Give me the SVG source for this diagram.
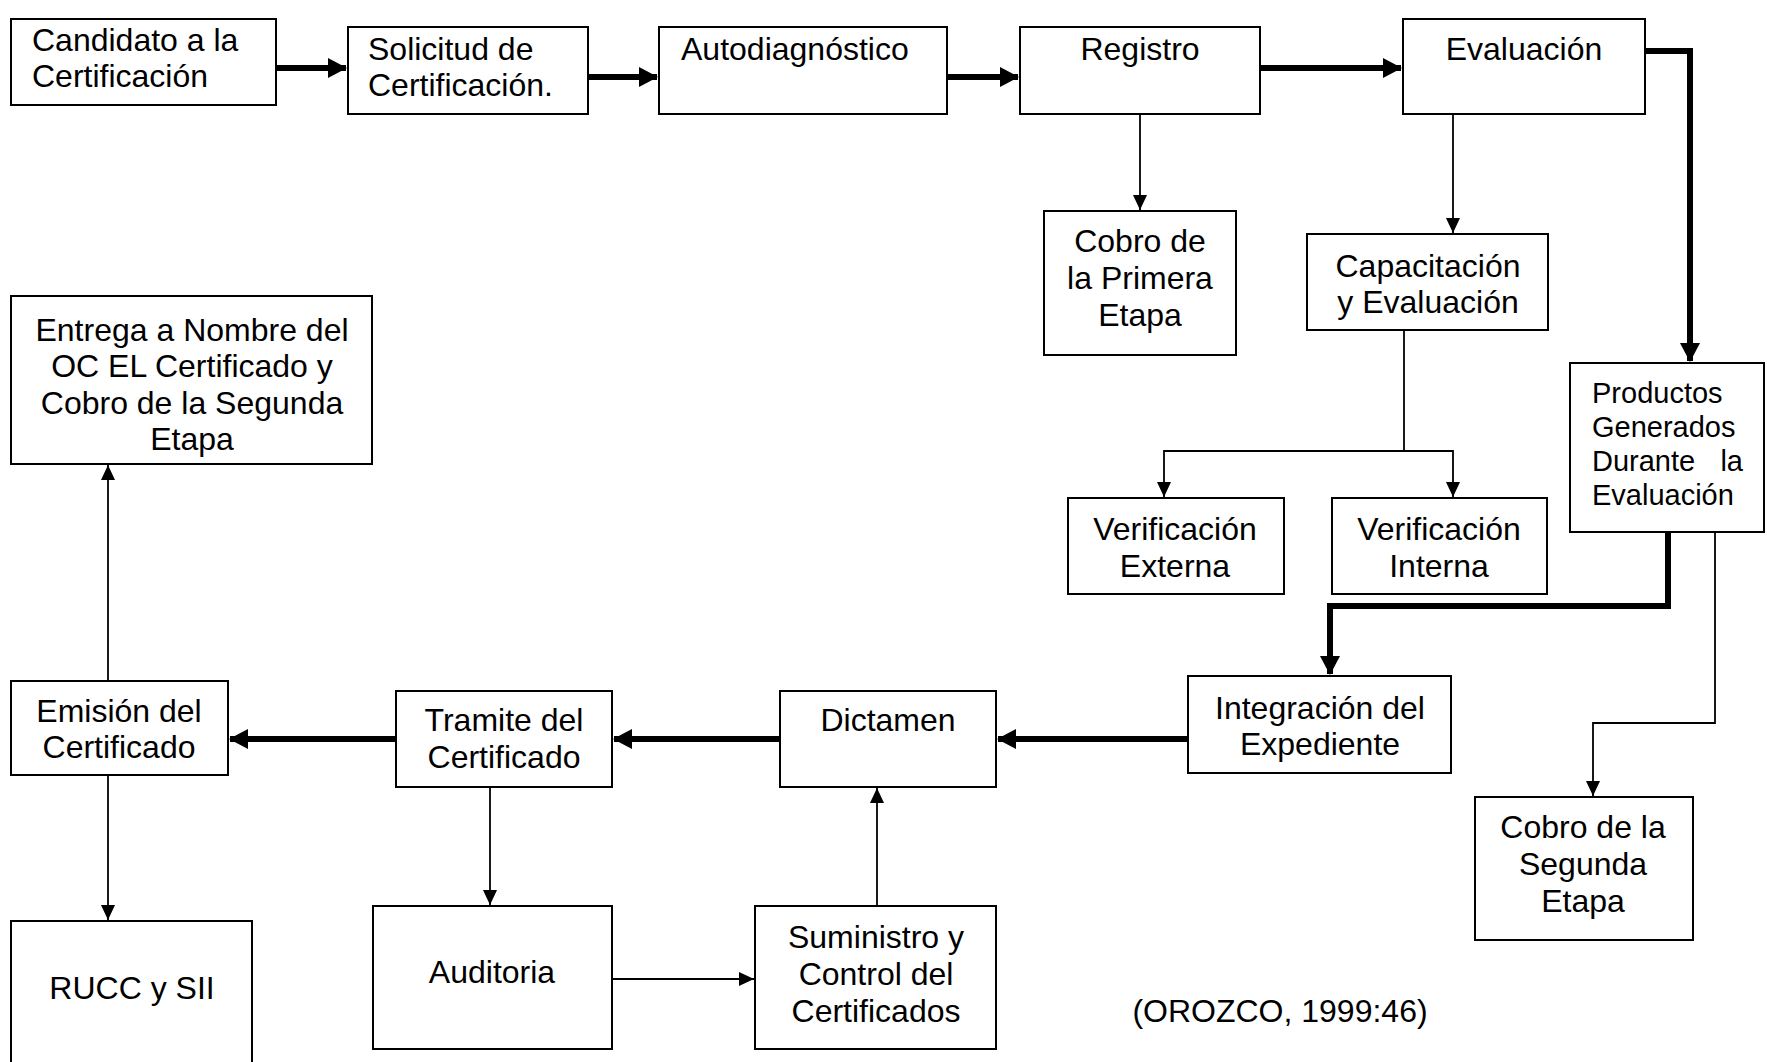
<svg xmlns="http://www.w3.org/2000/svg" width="1767" height="1062" viewBox="0 0 1767 1062">
<style>
.box{fill:#fff;stroke:#000;stroke-width:2}
text{font-family:"Liberation Sans",Arial,sans-serif;font-size:32px;fill:#000}
.c{text-anchor:middle}
.s{font-size:29px}
.thick{fill:none;stroke:#000;stroke-width:6}
.thin{fill:none;stroke:#000;stroke-width:1.8}
</style>
<defs>
<marker id="ah" markerUnits="userSpaceOnUse" markerWidth="19" markerHeight="20" refX="18" refY="10" orient="auto"><path d="M0,0 L19,10 L0,20 z" fill="#000"/></marker>
<marker id="at" markerUnits="userSpaceOnUse" markerWidth="15" markerHeight="14" refX="15" refY="7" orient="auto"><path d="M0,0 L15,7 L0,14 z" fill="#000"/></marker>
</defs>
<rect width="1767" height="1062" fill="#fff"/>
<g id="connectors">
<path class="thick" d="M276,68 H346" marker-end="url(#ah)"/>
<path class="thick" d="M588,77 H657" marker-end="url(#ah)"/>
<path class="thick" d="M947,77 H1018" marker-end="url(#ah)"/>
<path class="thick" d="M1260,68 H1401" marker-end="url(#ah)"/>
<path class="thick" d="M1645,51 H1690 V361" marker-end="url(#ah)"/>
<path class="thin" d="M1140,114 V210" marker-end="url(#at)"/>
<path class="thin" d="M1453,114 V233" marker-end="url(#at)"/>
<path class="thin" d="M1404,330 V451"/>
<path class="thin" d="M1404,451 H1164 V497" marker-end="url(#at)"/>
<path class="thin" d="M1404,451 H1453 V497" marker-end="url(#at)"/>
<path class="thick" d="M1668,532 V606 H1330 V674" marker-end="url(#ah)"/>
<path class="thin" d="M1715,532 V723 H1593 V796" marker-end="url(#at)"/>
<path class="thick" d="M1188,739 H998" marker-end="url(#ah)"/>
<path class="thick" d="M780,739 H614" marker-end="url(#ah)"/>
<path class="thick" d="M396,739 H230" marker-end="url(#ah)"/>
<path class="thin" d="M108,681 V465" marker-end="url(#at)"/>
<path class="thin" d="M108,775 V920" marker-end="url(#at)"/>
<path class="thin" d="M490,787 V905" marker-end="url(#at)"/>
<path class="thin" d="M612,979 H754" marker-end="url(#at)"/>
<path class="thin" d="M877,906 V788" marker-end="url(#at)"/>
</g>
<g id="candidato"><rect class="box" x="11" y="19" width="265" height="86"/><text x="32" y="51">Candidato a la</text><text x="32" y="87">Certificación</text></g>
<g id="solicitud"><rect class="box" x="348" y="27" width="240" height="87"/><text x="368" y="60">Solicitud de</text><text x="368" y="96">Certificación.</text></g>
<g id="autodiagnostico"><rect class="box" x="659" y="27" width="288" height="87"/><text x="681" y="60">Autodiagnóstico</text></g>
<g id="registro"><rect class="box" x="1020" y="27" width="240" height="87"/><text class="c" x="1140" y="60">Registro</text></g>
<g id="evaluacion"><rect class="box" x="1403" y="19" width="242" height="95"/><text class="c" x="1524" y="60">Evaluación</text></g>
<g id="cobro1"><rect class="box" x="1044" y="211" width="192" height="144"/><text class="c" x="1140" y="252">Cobro de</text><text class="c" x="1140" y="289">la Primera</text><text class="c" x="1140" y="326">Etapa</text></g>
<g id="capacitacion"><rect class="box" x="1307" y="234" width="241" height="96"/><text class="c" x="1428" y="277">Capacitación</text><text class="c" x="1428" y="313">y Evaluación</text></g>
<g id="verif-externa"><rect class="box" x="1068" y="498" width="216" height="96"/><text class="c" x="1175" y="540">Verificación</text><text class="c" x="1175" y="577">Externa</text></g>
<g id="verif-interna"><rect class="box" x="1332" y="498" width="215" height="96"/><text class="c" x="1439" y="540">Verificación</text><text class="c" x="1439" y="577">Interna</text></g>
<g id="productos"><rect class="box" x="1570" y="363" width="194" height="169"/><text class="s" x="1592" y="403">Productos</text><text class="s" x="1592" y="437">Generados</text><text class="s" x="1592" y="471">Durante</text><text class="s" x="1743" y="471" text-anchor="end">la</text><text class="s" x="1592" y="505">Evaluación</text></g>
<g id="entrega"><rect class="box" x="11" y="296" width="361" height="168"/><text class="c" x="192" y="341">Entrega a Nombre del</text><text class="c" x="192" y="377">OC EL Certificado y</text><text class="c" x="192" y="414">Cobro de la Segunda</text><text class="c" x="192" y="450">Etapa</text></g>
<g id="integracion"><rect class="box" x="1188" y="676" width="263" height="97"/><text class="c" x="1320" y="719">Integración del</text><text class="c" x="1320" y="755">Expediente</text></g>
<g id="dictamen"><rect class="box" x="780" y="691" width="216" height="96"/><text class="c" x="888" y="731">Dictamen</text></g>
<g id="tramite"><rect class="box" x="396" y="691" width="216" height="96"/><text class="c" x="504" y="731">Tramite del</text><text class="c" x="504" y="768">Certificado</text></g>
<g id="emision"><rect class="box" x="11" y="681" width="217" height="94"/><text class="c" x="119" y="722">Emisión del</text><text class="c" x="119" y="758">Certificado</text></g>
<g id="rucc"><rect class="box" x="11" y="921" width="241" height="160"/><text class="c" x="132" y="999">RUCC y SII</text></g>
<g id="auditoria"><rect class="box" x="373" y="906" width="239" height="143"/><text class="c" x="492" y="983">Auditoria</text></g>
<g id="suministro"><rect class="box" x="755" y="906" width="241" height="143"/><text class="c" x="876" y="948">Suministro y</text><text class="c" x="876" y="985">Control del</text><text class="c" x="876" y="1022">Certificados</text></g>
<g id="cobro2"><rect class="box" x="1475" y="797" width="218" height="143"/><text class="c" x="1583" y="838">Cobro de la</text><text class="c" x="1583" y="875">Segunda</text><text class="c" x="1583" y="912">Etapa</text></g>
<text class="c" x="1280" y="1022">(OROZCO, 1999:46)</text>
</svg>
